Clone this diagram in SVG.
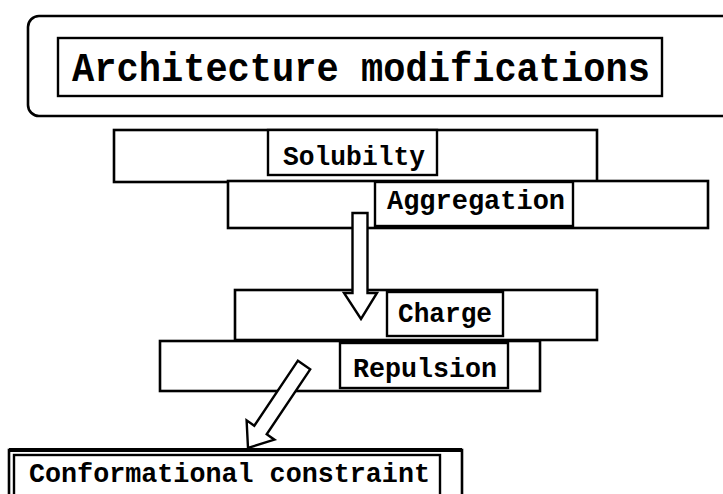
<svg xmlns="http://www.w3.org/2000/svg" width="723" height="494" viewBox="0 0 723 494">
  <style>
    .frame { fill: #fff; stroke: #000; stroke-width: 2.6; }
    .label { fill: #fff; stroke: #000; stroke-width: 2.4; }
    .arrow { fill: #fff; stroke: #000; stroke-width: 2.4; stroke-linejoin: miter; }
    text { font-family: "Liberation Mono", "Courier New", monospace; font-weight: bold; fill: #000; }
    .t-title { font-size: 40px; }
    .t-item { font-size: 28px; }
  </style>
  <rect width="723" height="494" fill="#fff"/>

  <!-- heading -->
  <g id="heading">
    <rect x="28" y="16" width="712" height="100" rx="11" class="frame"/>
    <rect x="58" y="38" width="604" height="58" class="label" stroke-width="2"/>
    <text x="72" y="81" class="t-title" textLength="578" lengthAdjust="spacingAndGlyphs">Architecture modifications</text>
  </g>

  <!-- stacked property bars -->
  <g id="solubility">
    <rect x="114" y="130" width="483" height="52" class="frame"/>
    <rect x="268" y="130" width="169" height="45" class="label"/>
    <text x="283" y="165" class="t-item" textLength="142" lengthAdjust="spacingAndGlyphs">Solubilty</text>
  </g>

  <g id="aggregation">
    <rect x="228" y="181" width="480" height="47" class="frame"/>
    <rect x="375" y="182" width="198" height="44" class="label"/>
    <text x="387" y="209" class="t-item" textLength="178" lengthAdjust="spacingAndGlyphs">Aggregation</text>
  </g>

  <g id="charge">
    <rect x="235" y="290" width="362" height="50" class="frame"/>
    <rect x="387" y="292" width="116" height="44" class="label"/>
    <text x="398" y="322" class="t-item" textLength="94" lengthAdjust="spacingAndGlyphs">Charge</text>
  </g>

  <g id="repulsion">
    <rect x="160" y="341" width="380" height="50" class="frame"/>
    <rect x="340" y="343" width="168" height="45" class="label"/>
    <text x="353" y="377" class="t-item" textLength="144" lengthAdjust="spacingAndGlyphs">Repulsion</text>
  </g>

  <g id="constraint">
    <rect x="9" y="450" width="453" height="60" class="frame"/>
    <line x1="9" y1="450" x2="462" y2="450" stroke="#000" stroke-width="4"/>
    <rect x="14" y="455" width="426" height="55" class="label"/>
    <text x="29" y="482" class="t-item" textLength="401" lengthAdjust="spacingAndGlyphs">Conformational constraint</text>
  </g>

  <!-- hollow block arrows between the bars -->
  <g id="connectors">
    <polygon class="arrow" points="352.5,213 367.5,213 367.5,293 377,293 361,319 344,293 352.5,293 352.5,213"/>
    <polygon class="arrow" points="297.9,360.7 310.2,369.3 266.7,434.3 274.4,439.7 248,448 246.6,420.3 254.3,425.7"/>
  </g>
</svg>
